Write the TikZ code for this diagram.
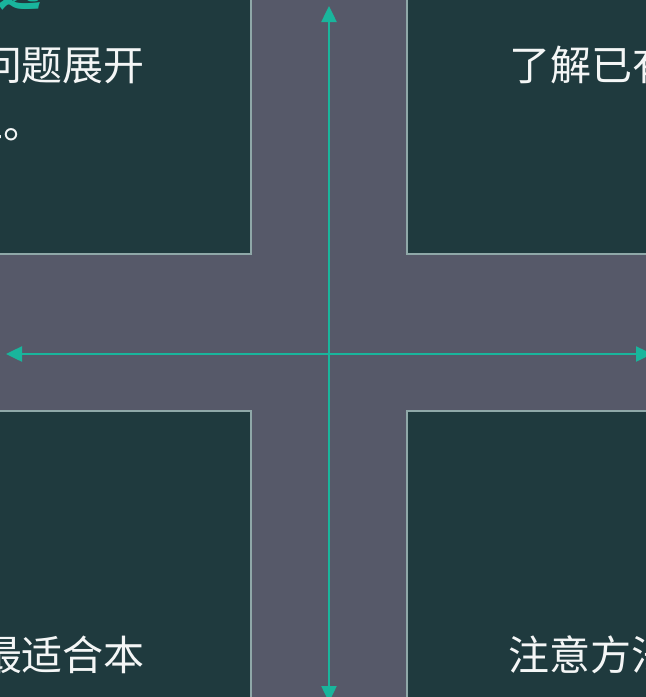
\documentclass[tikz,border=0pt]{standalone}
\usepackage{fontspec}
\newfontfamily\cjk{Noto Sans CJK SC}
\usetikzlibrary{arrows.meta}
\definecolor{bgcol}{HTML}{565969}
\definecolor{panelcol}{HTML}{1F3A3E}
\definecolor{edgecol}{HTML}{8FA8A8}
\definecolor{arrowcol}{HTML}{19B59C}
\definecolor{txtcol}{HTML}{F4F6F6}
\tikzset{
  panel/.style={fill=panelcol,draw=edgecol,line width=1.2pt},
  axis/.style={draw=arrowcol,line width=2.5pt,-{Triangle[length=16pt,width=15pt]}},
  cntxt/.style={font=\cjk\fontsize{41}{41}\selectfont,text=txtcol,anchor=base west,inner sep=0pt,outer sep=0pt},
  headtxt/.style={font=\cjk\bfseries\fontsize{44}{44}\selectfont,text=arrowcol,anchor=base west,inner sep=0pt}
}
\begin{document}
\begin{tikzpicture}[x=1pt,y=-1pt]
\useasboundingbox (0,0) rectangle (646,697);
\clip (0,0) rectangle (646,697);
\fill[bgcol] (0,0) rectangle (646,697);
% panels
\draw[panel] (-20,-20) rectangle (251,254);
\draw[panel] (407,-20) rectangle (670,254);
\draw[panel] (-20,411) rectangle (251,720);
\draw[panel] (407,411) rectangle (670,720);
% heading (cut off at top)
\node[headtxt] (head) at (-3,5) {选};
% texts
\node[cntxt] (tl1) at (-19,80) {问题展开};
\node[cntxt] (tl2) at (-37,138) {工。};
\node[cntxt] (tr) at (509,80) {了解已有};
\node[cntxt] (bl) at (-19,670) {最适合本};
\node[cntxt] (br) at (508,670) {注意方法};
% axes
\coordinate (c) at (329,354);
\coordinate (up) at (329,6);
\coordinate (down) at (329,702);
\coordinate (left) at (6,354);
\coordinate (right) at (652,354);
\draw[axis] (c) -- (up);
\draw[axis] (c) -- (down);
\draw[axis] (c) -- (left);
\draw[axis] (c) -- (right);
\end{tikzpicture}
\end{document}
